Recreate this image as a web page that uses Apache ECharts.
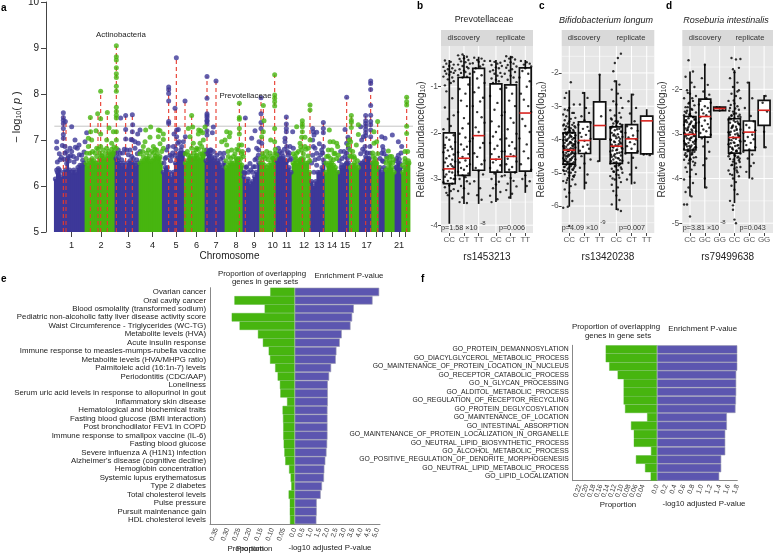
<!DOCTYPE html>
<html><head><meta charset="utf-8"><style>html,body{margin:0;padding:0;background:#fff}#c{width:773px;height:553px}</style>
<script src="https://cdn.jsdelivr.net/npm/echarts@6/dist/echarts.min.js"></script></head>
<body><div id="c"></div>
<script>
// ---------- panel a (x = position along the genome, y = -log10 p)
const chrStarts=[163,255,345,417,487,553,615,675,729,779,828,876,932,975,1015,1048,1078,1115,1137,1155,1185,1205,1230];
const chrTops=[
[6.15,6.3,6.35,6.2,6.3,6.35,6.6,6.35,6.3,6.35,6.3,6.4,6.45,6.45,6.5],
[6.5,6.45,6.5,6.6,6.55,6.5,6.5,6.6,6.65,6.6,6.6,6.65,6.7,6.7,6.75],
[6.6,6.55,6.5,6.45,6.5,6.4,6.5,6.55,6.5,6.5,6.45,6.5],
[6.5,6.55,6.55,6.6,6.6,6.55,6.55,6.6,6.65,6.6,6.6,6.5],
[6.3,6.4,6.4,6.3,6.2,6.3,6.5,6.6,6.7,6.7,6.7],
[6.5,6.55,6.6,6.6,6.6,6.65,6.6,6.6,6.7,6.7],
[6.55,6.7,6.7,6.6,6.55,6.5,6.5,6.45,6.4,6.5],
[6.4,6.45,6.5,6.5,6.5,6.6,6.55,6.5,6.45],
[6.2,6.1,6.15,6.05,6.1,6.2,6.3,6.5],
[6.5,6.5,6.45,6.4,6.45,6.5,6.6,6.6],
[6.55,6.6,6.6,6.6,6.55,6.55,6.4,6.3],
[6.5,6.55,6.5,6.55,6.6,6.6,6.5,6.5,6.3],
[6.1,6.0,6.1,6.3,6.3,6.4,6.5],
[6.3,6.45,6.5,6.5,6.45,6.4,6.3],
[6.3,6.4,6.4,6.45,6.5,6.5],
[6.4,6.45,6.5,6.45,6.4],
[6.5,6.5,6.55,6.6,6.6,6.5],
[6.5,6.55,6.5,6.4],
[6.4,6.3,6.4],
[6.35,6.4,6.5,6.4,6.3],
[6.4,6.5,6.4],
[6.3,6.4,6.5,6.5]];
const blueDots=[[190,7.59],[190,7.49],[190,7.43],[196,7.4],[190,7.36],[190,7.25],[190,7.12],[190,7.04],[195,6.86],[170,6.96],[170,6.82],[215,7.29],[237,6.89],[225,7.0],[210,6.82],[187,6.88],[195,6.71],[205,6.64],[180,6.57],[175,6.38],[170,6.35],[220,6.64],[245,6.67],[255,6.96],[260,7.16],[232,6.82],[200,6.49],[215,6.75],[226,6.84],[362,7.48],[377,7.53],[397,7.55],[398,7.33],[377,7.23],[397,7.18],[377,7.02],[397,7.0],[393,7.01],[405,6.96],[420,7.22],[413,7.13],[415,6.93],[380,6.78],[360,6.71],[390,6.78],[405,6.82],[420,6.75],[365,6.57],[395,6.64],[410,6.57],[506,8.15],[506,8.09],[506,8.01],[506,7.85],[506,7.4],[506,7.36],[525,7.69],[529,8.79],[530,7.22],[535,7.23],[522,7.13],[530,7.07],[500,6.78],[510,6.67],[525,6.67],[550,6.96],[556,7.07],[537,6.96],[545,6.86],[533,6.93],[520,6.86],[505,6.86],[515,6.64],[540,6.71],[495,6.6],[555,7.85],[621,8.38],[621,7.91],[621,7.57],[621,7.53],[621,7.49],[621,7.43],[621,7.4],[621,7.35],[648,8.28],[640,7.28],[637,7.16],[621,7.2],[621,7.11],[630,6.78],[640,6.75],[650,6.67],[660,6.71],[672,6.71],[635,6.64],[620,6.78],[655,6.49],[625,6.57],[736,7.48],[765,7.2],[755,7.04],[745,6.78],[783,7.92],[783,7.57],[783,7.38],[783,7.25],[777,6.96],[785,6.93],[770,6.82],[775,6.67],[765,6.57],[750,6.49],[740,6.42],[760,6.42],[735,6.28],[859,7.5],[859,7.35],[859,7.25],[859,7.18],[878,7.18],[855,7.04],[855,6.96],[860,6.86],[870,6.86],[880,6.82],[835,6.82],[840,6.75],[850,6.64],[865,6.67],[870,6.57],[840,6.57],[970,7.38],[970,7.25],[970,7.16],[938,7.25],[940,7.18],[942,7.11],[938,7.0],[950,7.17],[940,6.86],[958,6.92],[945,6.82],[970,6.86],[965,6.78],[950,6.71],[970,6.57],[945,6.57],[938,6.67],[1040,7.93],[1035,7.23],[1044,7.06],[1040,6.93],[1045,6.82],[1022,6.75],[1040,6.71],[1035,6.64],[1025,6.46],[1040,6.49],[1097,7.53],[1097,7.42],[1097,7.36],[1097,7.3],[1097,7.23],[1097,7.16],[1097,7.09],[1112,8.28],[1112,8.23],[1112,8.1],[1112,7.75],[1112,7.54],[1112,7.4],[1112,7.33],[1112,7.22],[1112,7.07],[1082,7.29],[1090,7.07],[1095,6.86],[1110,6.86],[1097,6.64],[1110,6.71],[1085,7.0],[1145,7.07],[1155,7.04],[1148,6.86],[1150,6.78],[1145,6.71],[1160,6.64],[1150,6.53],[1177,7.11],[1195,6.96],[1205,6.86],[1195,6.67],[1190,6.6],[1200,6.49],[1190,6.42],
[172,6.52],[178,6.7],[184,6.62],[192,6.58],[200,6.75],[208,6.55],[212,6.66],[222,6.52],[230,6.6],[238,6.68],[248,6.56],[252,6.74],[350,6.7],[356,6.62],[368,6.72],[373,6.8],[385,6.68],[400,6.6],[412,6.7],[355,6.78],[492,6.5],[498,6.62],[512,6.55],[518,6.72],[528,6.8],[535,6.62],[543,6.78],[549,6.72],[618,6.7],[626,6.75],[633,6.78],[645,6.6],[652,6.55],[662,6.58],[668,6.62],[732,6.3],[738,6.4],[745,6.3],[752,6.35],[758,6.3],[765,6.42],[770,6.6],[776,6.78],[832,6.7],[838,6.65],[846,6.72],[853,6.8],[862,6.75],[868,6.72],[874,6.6],[935,6.5],[942,6.3],[950,6.45],[956,6.6],[962,6.68],[968,6.72],[1018,6.55],[1026,6.6],[1032,6.75],[1042,6.6],[1082,6.7],[1088,6.8],[1094,6.75],[1102,6.72],[1108,6.6],[1140,6.6],[1147,6.55],[1152,6.7],[1188,6.55],[1198,6.58],[1203,6.72]];
const greenDots=[[271,7.49],[293,7.57],[302,8.06],[302,7.46],[322,7.6],[302,7.13],[272,7.18],[265,7.04],[288,7.2],[327,7.26],[340,7.18],[290,6.82],[320,7.0],[335,6.93],[302,6.86],[275,7.0],[265,6.86],[270,6.71],[310,6.78],[320,6.82],[340,6.71],[260,6.71],[290,6.64],[330,6.67],[300,6.71],[349,9.05],[349,8.81],[349,8.74],[349,8.57],[349,8.44],[349,8.36],[349,8.17],[349,8.06],[349,7.71],[349,7.62],[349,7.54],[349,7.48],[349,7.18],[349,7.0],[349,6.82],[437,7.22],[452,7.28],[475,7.22],[480,7.2],[490,7.13],[450,7.06],[475,7.07],[490,7.01],[435,6.96],[430,6.86],[460,6.86],[480,6.92],[445,6.78],[470,6.78],[490,6.82],[430,6.64],[460,6.71],[480,6.64],[575,7.53],[565,7.25],[578,7.28],[596,7.22],[602,7.2],[615,7.28],[608,7.16],[595,7.13],[610,7.0],[570,7.07],[580,6.93],[600,6.93],[605,6.86],[590,6.82],[565,6.67],[575,6.82],[590,6.67],[610,6.67],[570,6.57],[718,7.8],[718,7.49],[718,7.45],[718,7.25],[718,7.13],[680,7.18],[690,7.16],[688,7.07],[675,7.0],[665,6.96],[717,6.89],[725,6.89],[680,6.89],[695,6.78],[715,6.78],[725,6.7],[685,6.64],[700,6.64],[715,6.6],[730,6.64],[790,7.75],[792,7.42],[790,7.18],[785,7.07],[824,8.42],[824,7.98],[824,7.91],[824,7.83],[824,7.74],[824,7.25],[812,7.0],[824,6.96],[825,6.71],[800,6.75],[815,6.64],[830,6.67],[790,6.64],[805,6.57],[890,7.29],[907,7.42],[907,7.35],[907,7.29],[907,7.18],[930,7.76],[930,7.65],[905,7.06],[915,7.06],[930,7.0],[900,6.93],[915,6.86],[890,6.71],[905,6.78],[925,6.82],[885,6.64],[900,6.57],[988,7.22],[990,6.96],[1000,6.96],[1010,6.93],[1013,6.86],[985,6.78],[995,6.78],[1005,6.71],[1015,6.67],[980,6.64],[1000,6.57],[1054,7.53],[1054,7.43],[1054,7.38],[1054,7.27],[1048,7.0],[1052,6.96],[1045,6.89],[1069,6.89],[1050,6.78],[1062,6.64],[1055,6.64],[1075,7.33],[1075,7.12],[1133,7.4],[1130,6.96],[1122,6.93],[1122,7.18],[1120,6.64],[1130,6.49],[1165,6.76],[1170,6.64],[1160,6.6],[1175,6.64],[1180,6.57],[1220,7.93],[1220,7.83],[1220,7.76],[1220,7.3],[1220,7.14],[1215,6.75],[1223,6.75],[1220,6.38],[1215,6.53],
[258,6.6],[268,6.55],[278,6.75],[285,6.72],[295,6.8],[305,6.66],[315,6.7],[325,6.75],[335,6.8],[342,6.85],[420,6.7],[428,6.75],[440,6.72],[448,6.65],[455,6.75],[465,6.8],[472,6.7],[485,6.75],[556,6.7],[562,6.75],[572,6.65],[582,6.72],[588,6.78],[595,6.8],[600,6.7],[612,6.78],[678,6.55],[684,6.75],[692,6.6],[705,6.7],[710,6.8],[722,6.6],[727,6.75],[782,6.6],[788,6.7],[795,6.6],[802,6.65],[810,6.72],[818,6.6],[826,6.8],[880,6.7],[888,6.6],[895,6.75],[902,6.85],[910,6.7],[918,6.8],[924,6.65],[929,6.55],[978,6.5],[985,6.65],[992,6.6],[1002,6.7],[1010,6.6],[1050,6.65],[1058,6.75],[1064,6.6],[1072,6.55],[1118,6.72],[1125,6.6],[1133,6.7],[1158,6.5],[1168,6.55],[1178,6.5],[1208,6.45],[1215,6.6],[1225,6.55]];
const hitPos=[190,198,271,294,302,322,349,377,397,506,525,529,555,575,621,648,718,736,783,790,824,859,907,930,970,1040,1054,1097,1112,1133,1220];
const hitTop=[7.59,7.4,7.49,7.57,8.06,7.6,9.05,7.53,7.55,8.15,7.69,8.79,7.85,7.53,8.38,8.28,7.8,7.48,7.92,7.75,8.42,7.5,7.42,7.76,7.38,7.93,7.53,7.53,8.28,7.4,7.93];
const chrTickPos=[215,303,385,458,528,590,648,708,762,818,860,912,958,996,1035,1065,1100,1130,1148,1175,1197,1217];
const chrTickName=['1','2','3','4','5','6','7','8','9','10','11','12','13','14','15','','17','','','','21',''];
const genomeLine=[7.3];

// ---------- panels b, c, d: boxes
const bX=[1,2,3,4.18,5.18,6.18], bXNames=['CC','CT','TT','CC','CT','TT'];
const bLow=[-3.97,-3.54,-3.54,-3.5,-3.43,-3.3], bQ1=[-3.1,-2.92,-2.81,-2.85,-2.85,-2.83], bMed=[-2.78,-2.55,-2.06,-2.57,-2.51,-1.57], bQ3=[-2.0,-.8,-.6,-.94,-.96,-.59], bHigh=[-.42,-.31,-.35,-.42,-.33,-.42];
const cX=[1,2,3,4.1,5.1,6.1], cXNames=['CC','CT','TT','CC','CT','TT'];
const cLow=[-6.02,-5.5,-4.67,-6.12,-5.35,-4.47], cQ1=[-4.74,-4.42,-3.99,-4.72,-4.4,-4.43], cMed=[-4.32,-4.03,-3.58,-4.2,-3.98,-3.44], cQ3=[-3.8,-3.47,-2.87,-3.62,-3.55,-3.3], cHigh=[-2.52,-2.57,-2.05,-2.22,-2.62,-3.09];
const dX=[1,2,3,4,5,6], dXNames=['CC','GC','GG','CC','GC','GG'];
const dLow=[-4.4,-4.22,-2.5,-4.55,-4.0,-3.32], dQ1=[-3.36,-3.07,-2.48,-3.43,-3.37,-2.81], dMed=[-3.01,-2.61,-2.43,-3.08,-2.96,-2.47], dQ3=[-2.61,-2.22,-2.4,-2.66,-2.71,-2.25], dHigh=[-1.6,-1.43,-2.38,-1.57,-1.83,-2.13];

// ---------- jittered samples: [offset in tenths of a category, value, ...]
const bJit=[
[-3,-.43,1,-.46,-2,-.5,3,-.52,0,-.55,-4,-.57,2,-.6,-1,-.62,4,-.65,-3,-.66,1,-.68,3,-.7,-2,-.72,0,-.74,-4,-.78,2,-.8,-1,-.84,3,-.88,1,-.92,-3,-.97,-2,-1.1,2,-1.25,-3,-1.45,3,-1.62,-1,-1.7,1,-1.85,-4,-1.92,3,-2.05,-2,-2.1,0,-2.15,4,-2.2,-3,-2.26,1,-2.3,2,-2.35,-1,-2.38,-4,-2.42,3,-2.47,0,-2.5,-2,-2.55,2,-2.58,4,-2.62,-3,-2.64,1,-2.68,-1,-2.72,3,-2.75,-4,-2.8,0,-2.84,2,-2.86,-2,-2.9,4,-2.92,-3,-2.95,1,-2.98,3,-3.0,-1,-3.04,-4,-3.07,2,-3.1,0,-3.14,-3,-3.18,3,-3.22,1,-3.26,-2,-3.3,-1,-3.35,2,-3.42,-3,-2.32,2,-2.72,4,-3.0],
[-4,-.32,-1,-.3,2,-.35,0,-.38,-3,-.4,3,-.42,-2,-.45,1,-.47,4,-.5,-4,-.52,-1,-.55,2,-.57,3,-.6,-3,-.62,0,-.65,1,-.68,-2,-.7,4,-.72,-4,-.75,2,-.78,-1,-.8,3,-.95,-3,-1.05,1,-1.15,-2,-1.3,2,-1.42,-4,-1.55,0,-1.68,3,-1.8,-1,-1.9,-3,-2.02,1,-2.1,4,-2.18,-2,-2.25,2,-2.3,0,-2.36,-4,-2.42,3,-2.46,-1,-2.52,1,-2.6,-3,-2.64,4,-2.68,2,-2.72,-2,-2.76,0,-2.8,-4,-2.84,3,-2.88,-1,-2.92,1,-2.96,-3,-3.0,2,-3.05,4,-3.1,-2,-3.15,0,-3.2,-4,-3.26,3,-3.32,-1,-3.4,-3,-3.5,2,-3.52],
[-3,-.37,2,-.39,-1,-.42,4,-.44,0,-.46,-4,-.49,3,-.52,1,-.56,-2,-.6,-3,-.68,2,-.75,-1,-.82,4,-.92,0,-1.02,-3,-1.12,3,-1.24,1,-1.32,-4,-1.42,-1,-1.55,2,-1.66,4,-1.78,-2,-1.88,0,-1.98,-4,-2.12,3,-2.22,1,-2.32,-3,-2.44,-1,-2.52,4,-2.6,2,-2.68,-2,-2.76,0,-2.82,3,-2.9,-3,-3.05,1,-3.2,-1,-3.35,2,-3.45],
[-4,-.44,-1,-.46,3,-.48,1,-.5,-3,-.53,4,-.55,0,-.58,2,-.6,-2,-.64,-4,-.67,3,-.7,-1,-.72,1,-.76,4,-.78,-3,-.82,0,-.85,2,-.88,-2,-.92,3,-1.05,-4,-1.2,1,-1.35,-1,-1.5,4,-1.62,-3,-1.75,2,-1.86,0,-1.98,-2,-2.08,3,-2.14,-4,-2.22,1,-2.28,-1,-2.35,4,-2.4,-3,-2.46,2,-2.52,0,-2.58,-2,-2.64,3,-2.7,-4,-2.76,1,-2.82,-1,-2.88,4,-2.94,-3,-3.0,2,-3.06,0,-3.12,-2,-3.2,3,-3.28,-4,-3.36,1,-3.44,-3,-3.5],
[-3,-.34,1,-.36,-1,-.39,3,-.41,-4,-.44,0,-.47,2,-.5,-2,-.53,4,-.56,-3,-.59,1,-.62,-1,-.65,3,-.68,-4,-.72,0,-.76,2,-.8,-2,-.85,4,-.9,-3,-1.02,1,-1.15,-1,-1.3,3,-1.42,-4,-1.55,0,-1.68,2,-1.78,-2,-1.92,4,-2.02,-3,-2.12,1,-2.2,-1,-2.28,3,-2.34,-4,-2.4,0,-2.46,2,-2.5,-2,-2.56,4,-2.62,-3,-2.68,1,-2.74,-1,-2.8,3,-2.86,-4,-2.92,0,-2.98,2,-3.04,-2,-3.1,4,-3.16,-3,-3.24,1,-3.32,-1,-3.4],
[-3,-.44,1,-.47,3,-.5,-1,-.52,4,-.56,0,-.6,-2,-.66,2,-.72,-4,-.8,3,-.88,1,-1.0,-3,-1.15,-1,-1.28,2,-1.42,4,-1.55,-2,-1.7,0,-1.85,3,-1.98,-4,-2.12,1,-2.25,-1,-2.4,2,-2.55,-3,-2.68,4,-2.8,0,-2.92,-2,-3.0,3,-3.05,1,-3.15]];
const cJit=[
[-2,-2.6,1,-2.28,-3,-2.75,3,-2.95,0,-3.05,-1,-3.12,2,-3.2,-4,-3.25,-2,-3.3,4,-3.35,1,-3.38,-3,-3.42,0,-3.46,3,-3.5,-1,-3.52,2,-3.56,-4,-3.58,-2,-3.6,4,-3.64,1,-3.66,-3,-3.7,0,-3.72,3,-3.75,-1,-3.78,2,-3.8,-4,-3.82,-2,-3.85,4,-3.87,1,-3.9,-3,-3.92,0,-3.94,3,-3.96,-1,-3.98,2,-4.0,-4,-4.02,-2,-4.04,4,-4.06,1,-4.08,-3,-4.1,0,-4.12,3,-4.14,-1,-4.16,2,-4.18,-4,-4.2,-2,-4.22,4,-4.24,1,-4.26,-3,-4.28,0,-4.3,3,-4.32,-1,-4.34,2,-4.36,-4,-4.38,-2,-4.4,4,-4.42,1,-4.44,-3,-4.46,0,-4.48,3,-4.5,-1,-4.52,2,-4.54,-4,-4.56,-2,-4.58,4,-4.6,1,-4.62,-3,-4.64,0,-4.66,3,-4.68,-1,-4.7,2,-4.72,-4,-4.74,-2,-4.76,4,-4.78,1,-4.8,-3,-4.82,0,-4.84,3,-4.86,-1,-4.88,2,-4.9,-4,-4.92,-2,-4.95,4,-4.98,1,-5.0,-3,-5.04,0,-5.08,3,-5.12,-1,-5.16,2,-5.2,-4,-5.25,-2,-5.3,4,-5.35,1,-5.4,-3,-5.5,0,-5.6,-2,-5.72,2,-5.85,-1,-6.02,-4,-6.05,0,-6.6,3,-3.2,-3,-3.1,
 -3.5,-3.55,-.5,-3.63,2.5,-3.71,-2.5,-3.79,.5,-3.87,3.5,-3.95,-1.5,-4.03,1.5,-4.11,-3.5,-4.19,2.5,-4.27,-.5,-4.35,3.5,-4.43,-2.5,-4.51,.5,-4.59,-1.5,-4.67,1.5,-4.75,-3.5,-4.83,2.5,-4.91,-.5,-4.99,3.5,-5.07,-1.5,-3.84,1.5,-3.92,-2.5,-4.0,.5,-4.07,3.5,-4.15,-3.5,-4.25,-.5,-4.33,2.5,-4.41,-1.5,-4.49,1.5,-4.57,-2.5,-4.65,.5,-4.73,3.5,-4.81,-3.5,-4.61,-.5,-4.45,2.5,-4.2,-1.5,-4.3,1.5,-4.4,.5,-3.75,-2.5,-3.68,3.5,-3.6,-3.5,-4.95,2.5,-5.1,-1.5,-5.22],
[-1,-2.6,2,-2.75,-3,-2.95,1,-3.05,3,-3.2,-2,-3.3,0,-3.42,4,-3.5,-4,-3.56,2,-3.62,-1,-3.68,3,-3.74,-3,-3.8,1,-3.86,-2,-3.92,4,-3.98,0,-4.04,-4,-4.1,2,-4.16,-1,-4.22,3,-4.28,-3,-4.34,1,-4.4,-2,-4.5,4,-4.6,0,-4.72,-3,-4.85,2,-5.05,1,-5.3],
[0,-2.05,1,-3.3,-1,-4.65],
[-1,-2.25,2,-2.35,-3,-2.5,1,-2.62,3,-2.75,-2,-2.85,0,-2.95,4,-3.05,-4,-3.12,2,-3.2,-1,-3.28,3,-3.34,-3,-3.4,1,-3.46,-2,-3.52,4,-3.56,0,-3.6,-4,-3.64,2,-3.68,-1,-3.72,3,-3.76,-3,-3.8,1,-3.84,-2,-3.88,4,-3.92,0,-3.96,-4,-4.0,2,-4.04,-1,-4.08,3,-4.12,-3,-4.16,1,-4.2,-2,-4.24,4,-4.28,0,-4.32,-4,-4.36,2,-4.4,-1,-4.44,3,-4.48,-3,-4.52,1,-4.56,-2,-4.6,4,-4.64,0,-4.68,-4,-4.72,2,-4.76,-1,-4.8,3,-4.84,-3,-4.88,1,-4.92,-2,-4.96,4,-5.0,0,-5.05,-4,-5.1,2,-5.15,-1,-5.2,3,-5.28,-3,-5.36,1,-5.44,-2,-5.55,0,-5.68,2,-5.82,-3,-5.95,1,-6.1,3,-6.15,3,-1.42,1,-1.55,-1,-1.7,-2,-1.95,
 -3.5,-3.37,-.5,-3.45,2.5,-3.53,-2.5,-3.61,.5,-3.69,3.5,-3.77,-1.5,-3.85,1.5,-3.93,-3.5,-4.01,2.5,-4.09,-.5,-4.17,3.5,-4.25,-2.5,-4.33,.5,-4.41,-1.5,-4.49,1.5,-4.57,-3.5,-4.65,2.5,-4.73,-.5,-4.81,3.5,-4.89,-1.5,-4.97,1.5,-5.07,-2.5,-5.17,.5,-3.5,3.5,-3.58,-3.5,-3.66,-.5,-3.9,2.5,-3.98,-1.5,-4.06,1.5,-4.14,-2.5,-4.22,.5,-4.3,3.5,-4.38,-3.5,-4.46,-.5,-4.54,2.5,-4.62,-1.5,-4.7,1.5,-4.78],
[1,-2.65,-2,-2.85,3,-3.05,-1,-3.22,2,-3.45,-3,-3.6,0,-3.66,4,-3.74,-4,-3.8,1,-3.88,-2,-3.94,3,-4.0,-1,-4.08,2,-4.14,-3,-4.2,0,-4.28,4,-4.35,-4,-4.42,1,-4.55,-2,-4.7,3,-4.85,-1,-5.05,2,-5.3,-3,-5.2],
[-2,-4.45,2,-4.47]];
const dJit=[
[-1,-1.35,2,-1.6,-3,-1.72,1,-1.85,3,-1.95,-2,-2.02,0,-2.1,4,-2.15,-4,-2.2,2,-2.26,-1,-2.32,3,-2.36,-3,-2.4,1,-2.44,-2,-2.48,4,-2.52,0,-2.55,-4,-2.58,2,-2.62,-1,-2.65,3,-2.68,-3,-2.7,1,-2.72,-2,-2.74,4,-2.76,0,-2.78,-4,-2.8,2,-2.82,-1,-2.84,3,-2.86,-3,-2.88,1,-2.9,-2,-2.92,4,-2.94,0,-2.96,-4,-2.98,2,-3.0,-1,-3.02,3,-3.04,-3,-3.06,1,-3.08,-2,-3.1,4,-3.12,0,-3.14,-4,-3.16,2,-3.18,-1,-3.2,3,-3.22,-3,-3.24,1,-3.26,-2,-3.28,4,-3.3,0,-3.32,-4,-3.34,2,-3.36,-1,-3.38,3,-3.4,-3,-3.43,1,-3.46,-2,-3.49,4,-3.52,0,-3.55,-4,-3.58,2,-3.62,-1,-3.66,3,-3.7,-3,-3.75,1,-3.8,-2,-3.85,4,-3.9,0,-3.96,-4,-4.02,2,-4.1,-1,-4.2,-3,-4.3,1,-4.4,-4,-4.58,-2,-4.58,0,-4.85,
 -3.5,-2.5,-.5,-2.57,2.5,-2.63,-2.5,-2.69,.5,-2.75,3.5,-2.81,-1.5,-2.87,1.5,-2.93,-3.5,-2.99,2.5,-3.05,-.5,-3.11,3.5,-3.17,-2.5,-3.23,.5,-3.29,-1.5,-3.35,1.5,-3.41,-3.5,-3.47,2.5,-3.53,-.5,-3.59,3.5,-3.65,-1.5,-2.4,1.5,-2.46,-2.5,-2.53,.5,-2.6,3.5,-2.67,-3.5,-2.73,-.5,-2.79,2.5,-2.85,-1.5,-2.91,1.5,-2.97,-2.5,-3.03,.5,-3.09,3.5,-3.15,-3.5,-3.21,-.5,-3.27,2.5,-3.33,-1.5,-3.39,1.5,-3.45,-2.5,-3.51,.5,-3.57,3.5,-3.3,-.5,-2.3,1.5,-2.2,-1.5,-2.08],
[0,-1.45,-2,-1.75,2,-1.9,-1,-2.05,3,-2.12,1,-2.2,-3,-2.26,4,-2.3,-4,-2.34,0,-2.38,2,-2.42,-2,-2.46,3,-2.5,-1,-2.54,1,-2.58,-3,-2.62,4,-2.66,0,-2.7,-4,-2.74,2,-2.78,-2,-2.82,3,-2.86,-1,-2.9,1,-2.94,-3,-2.98,4,-3.02,0,-3.06,-2,-3.1,2,-3.18,-1,-3.28,3,-3.4,1,-3.55,-1,-3.7,0,-4.0,1,-4.2],
[-2,-2.4,0,-2.43,2,-2.46],
[-2,-1.3,1,-1.33,4,-1.32,3,-1.52,-1,-1.55,0,-1.62,-3,-1.75,2,-1.85,-1,-1.95,3,-2.02,-2,-2.1,1,-2.15,4,-2.2,-4,-2.26,0,-2.32,2,-2.38,-3,-2.42,3,-2.46,-1,-2.5,1,-2.54,-2,-2.58,4,-2.62,0,-2.65,-4,-2.68,2,-2.72,-3,-2.75,3,-2.78,-1,-2.81,1,-2.84,-2,-2.87,4,-2.9,0,-2.93,-4,-2.96,2,-2.99,-3,-3.02,3,-3.05,-1,-3.08,1,-3.11,-2,-3.14,4,-3.17,0,-3.2,-4,-3.23,2,-3.26,-3,-3.29,3,-3.32,-1,-3.35,1,-3.38,-2,-3.41,4,-3.44,0,-3.47,-4,-3.5,2,-3.53,-3,-3.56,3,-3.59,-1,-3.62,1,-3.66,-2,-3.7,4,-3.74,0,-3.78,-4,-3.82,2,-3.86,-3,-3.9,3,-3.95,-1,-4.0,1,-4.08,-2,-4.16,0,-4.25,2,-4.35,-3,-4.5,-1,-4.6,-1,-4.7,0,-4.92,1,-5.0,2,-2.05,-2,-2.6,
 -3.5,-2.48,-.5,-2.55,2.5,-2.61,-2.5,-2.67,.5,-2.73,3.5,-2.79,-1.5,-2.85,1.5,-2.91,-3.5,-2.97,2.5,-3.03,-.5,-3.09,3.5,-3.15,-2.5,-3.21,.5,-3.27,-1.5,-3.33,1.5,-3.39,-3.5,-3.45,2.5,-3.51,-.5,-3.57,3.5,-3.63,-1.5,-3.69,1.5,-3.75,-2.5,-2.35,.5,-2.43,3.5,-2.57,-3.5,-2.63,-.5,-2.7,2.5,-2.76,-1.5,-2.83,1.5,-2.89,-2.5,-2.95,.5,-3.01,3.5,-3.07,-3.5,-3.13,-.5,-3.19,2.5,-3.25,-1.5,-3.31,1.5,-3.37,-2.5,-3.43,.5,-3.49,3.5,-3.55,-.5,-2.25,1.5,-3.82,-1.5,-3.92],
[-1,-1.85,2,-2.2,-3,-2.42,1,-2.6,3,-2.72,-2,-2.8,0,-2.86,4,-2.92,-4,-2.98,2,-3.02,-1,-3.07,3,-3.12,-3,-3.16,1,-3.2,-2,-3.25,4,-3.3,0,-3.35,-4,-3.4,2,-3.46,-1,-3.55,3,-3.65,1,-3.72,-2,-3.85,2,-4.0],
[1,-2.15,-1,-2.3,2,-2.5,0,-2.95,1,-3.3]];

// ---------- panels e, f: bars
const eNames=['Ovarian cancer','Oral cavity cancer','Blood osmolality (transformed sodium)','Pediatric non-alcoholic fatty liver disease activity score','Waist Circumference - Triglycerides (WC-TG)','Metabolite levels (HVA)','Acute insulin response','Immune response to measles-mumps-rubella vaccine','Metabolite levels (HVA/MHPG ratio)','Palmitoleic acid (16:1n-7) levels','Periodontitis (CDC/AAP)','Loneliness','Serum uric acid levels in response to allopurinol in gout','Inflammatory skin disease','Hematological and biochemical traits','Fasting blood glucose (BMI interaction)','Post bronchodilator FEV1 in COPD','Immune response to smallpox vaccine (IL-6)','Fasting blood glucose','Severe influenza A (H1N1) infection',"Alzheimer's disease (cognitive decline)",'Hemoglobin concentration','Systemic lupus erythematosus','Type 2 diabetes','Total cholesterol levels','Pulse pressure','Pursuit maintenance gain','HDL cholesterol levels'];
const eProp=[.109,.269,.134,.281,.246,.164,.142,.116,.11,.087,.076,.066,.064,.034,.054,.052,.051,.051,.049,.046,.042,.025,.018,.015,.027,.022,.022,.021];
const eP=[5.1,4.7,3.57,3.47,3.37,2.84,2.72,2.52,2.48,2.2,2.08,2,2,2,1.98,1.98,1.98,1.98,1.96,1.92,1.85,1.79,1.77,1.65,1.57,1.33,1.33,1.31];
const ePropTicks=[0,.05,.1,.15,.2,.25,.3,.35], ePTicks=[0,.5,1,1.5,2,2.5,3,3.5,4,4.5,5];
const fNames=['GO_PROTEIN_DEMANNOSYLATION','GO_DIACYLGLYCEROL_METABOLIC_PROCESS','GO_MAINTENANCE_OF_PROTEIN_LOCATION_IN_NUCLEUS','GO_RECEPTOR_CATABOLIC_PROCESS','GO_N_GLYCAN_PROCESSING','GO_ALDITOL_METABOLIC_PROCESS','GO_REGULATION_OF_RECEPTOR_RECYCLING','GO_PROTEIN_DEGLYCOSYLATION','GO_MAINTENANCE_OF_LOCATION','GO_INTESTINAL_ABSORPTION','GO_MAINTENANCE_OF_PROTEIN_LOCALIZATION_IN_ORGANELLE','GO_NEUTRAL_LIPID_BIOSYNTHETIC_PROCESS','GO_ALCOHOL_METABOLIC_PROCESS','GO_POSITIVE_REGULATION_OF_DENDRITE_MORPHOGENESIS','GO_NEUTRAL_LIPID_METABOLIC_PROCESS','GO_LIPID_LOCALIZATION'];
const fProp=[.146,.146,.136,.112,.095,.095,.095,.091,.028,.074,.066,.066,.017,.06,.034,.018];
const fP=[1.8,1.8,1.8,1.776,1.776,1.776,1.77,1.76,1.567,1.567,1.53,1.53,1.53,1.44,1.44,1.395];
const fPropTicks=[0,.02,.04,.06,.08,.1,.12,.14,.16,.18,.2,.22,.24], fPTicks=[0,.2,.4,.6,.8,1,1.2,1.4,1.6,1.8];

const FONT='"Liberation Sans",Arial,sans-serif';
const BLUE='#3d3899', GREEN='#47b50f', BARBLUE='#5c56b0';
const chart=echarts.init(document.getElementById('c'),null,{renderer:'canvas'});

const grids=[
 {left:46,top:2,width:367,height:230},
 {left:441,top:46,width:92,height:187,show:true,backgroundColor:'#e6e6e6',borderWidth:0},
 {left:561.7,top:46,width:92.6,height:187,show:true,backgroundColor:'#e6e6e6',borderWidth:0},
 {left:682.3,top:46,width:90.7,height:187,show:true,backgroundColor:'#e6e6e6',borderWidth:0},
 {left:210,top:287.7,width:84.7,height:236.5},
 {left:294.7,top:287.7,width:85.3,height:236.5},
 {left:572.7,top:345.3,width:84.3,height:135.4},
 {left:657,top:345.3,width:80.3,height:135.4}].map(g=>Object.assign(g,{outerBoundsMode:'none',containLabel:false}));

const tickName={};chrTickPos.forEach((p,i)=>tickName[p]=chrTickName[i]);
const xAxes=[{gridIndex:0,type:'value',min:138,max:1239,splitLine:{show:false},axisLine:{show:false},
  axisTick:{show:true,length:5,lineStyle:{color:'#444'},customValues:chrTickPos},
  axisLabel:{customValues:chrTickPos,formatter:v=>tickName[v]||'',fontSize:9.2,color:'#222',margin:9,fontFamily:FONT},
  name:'Chromosome',nameLocation:'middle',nameGap:19,nameTextStyle:{fontSize:10,color:'#222',fontFamily:FONT}}];
const yAxes=[{gridIndex:0,type:'value',min:5,max:10,interval:1,splitLine:{show:false},
  axisLine:{show:true,lineStyle:{color:'#444'}},axisTick:{length:5,lineStyle:{color:'#444'}},
  axisLabel:{fontSize:10,color:'#222',margin:7,fontFamily:FONT},
  name:'\u2212 log{s|10}( {i|p} )',nameLocation:'middle',nameRotate:90,nameGap:23,
  nameTextStyle:{fontSize:11,color:'#222',fontFamily:FONT,rich:{s:{fontSize:7,padding:[5,0,0,0],fontFamily:FONT,color:'#222'},i:{fontSize:11,fontStyle:'italic',fontFamily:FONT,color:'#222'}}}}];

function boxAxes(gi,xs,names,min,max,ymin,ymax,yticks,rs,nameGapY){
 const nm={};xs.forEach((x,i)=>nm[x]=names[i]);
 xAxes.push({gridIndex:gi,type:'value',min,max,splitLine:{show:false},axisLine:{show:false},
  axisTick:{length:3,lineStyle:{color:'#444'},customValues:xs},
  axisLabel:{customValues:xs,formatter:v=>nm[v]||'',fontSize:8,color:'#555',margin:3,fontFamily:FONT},
  name:rs,nameLocation:'middle',nameGap:19,nameTextStyle:{fontSize:10,color:'#222',fontFamily:FONT}});
 yAxes.push({gridIndex:gi,type:'value',min:ymin,max:ymax,splitLine:{show:false},axisLine:{show:false},
  axisTick:{length:3,lineStyle:{color:'#444'},customValues:yticks},
  axisLabel:{customValues:yticks,formatter:v=>String(v),fontSize:8.5,color:'#555',margin:3,fontFamily:FONT},
  name:'Relative abundance(log{s|10})',nameLocation:'middle',nameRotate:90,nameGap:nameGapY,
  nameTextStyle:{fontSize:10,color:'#333',fontFamily:FONT,rich:{s:{fontSize:7,padding:[4,0,0,0],fontFamily:FONT,color:'#333'}}}});
}
boxAxes(1,bX,bXNames,.434,6.705,-4.17,-.117,[-4,-3,-2,-1],'rs1453213',11);
boxAxes(2,cX,cXNames,.5,6.6,-6.81,-1.19,[-6,-5,-4,-3,-2],'rs13420238',12);
boxAxes(3,dX,dXNames,.48,6.6,-5.22,-1.03,[-5,-4,-3,-2],'rs79499638',12);

function barAxes(gi,names,propTicks,propMax,pTicks,pMax,labelFont){
 const common={type:'value',splitLine:{show:false},axisLine:{show:true,onZero:false,lineStyle:{color:'#888'}}};
 xAxes.push(Object.assign({},common,{gridIndex:gi,inverse:true,min:0,max:propMax,
  axisTick:{length:3,lineStyle:{color:'#888'},customValues:propTicks.concat([propMax])},
  axisLabel:{customValues:propTicks.slice(1),rotate:70,fontSize:6.8,color:'#333',margin:4,fontFamily:FONT,formatter:v=>v.toFixed(2)}}));
 yAxes.push({gridIndex:gi,type:'category',inverse:true,data:names,position:'left',
  axisLine:{show:true,onZero:false,lineStyle:{color:'#888'}},axisTick:{alignWithLabel:true,length:3,lineStyle:{color:'#888'}},
  axisLabel:{interval:0,fontSize:labelFont,color:'#222',margin:4,fontFamily:FONT},splitLine:{show:false}});
 xAxes.push(Object.assign({},common,{gridIndex:gi+1,min:0,max:pMax,
  axisTick:{length:3,lineStyle:{color:'#888'},customValues:pTicks.concat([pMax])},
  axisLabel:{customValues:pTicks,rotate:70,fontSize:6.8,color:'#333',margin:4,fontFamily:FONT,formatter:v=>v.toFixed(1)}}));
 yAxes.push({gridIndex:gi+1,type:'category',inverse:true,data:names,show:false});
}
barAxes(4,eNames,ePropTicks,.378,ePTicks,5.15,7.85);
barAxes(6,fNames,fPropTicks,.24,fPTicks,1.8,6.8);

const series=[];
// chromosome bodies
const bodyData=[],bodyBlue=[],bodyGreen=[];
chrTops.forEach((tops,c)=>{const a=chrStarts[c],b=chrStarts[c+1],w=(b-a)/tops.length;
 tops.forEach((t,i)=>{bodyData.push([a+i*w,a+(i+1)*w,t,c%2]);(c%2?bodyGreen:bodyBlue).push([a+(i+.5)*w,t]);});});
series.push({type:'custom',xAxisIndex:0,yAxisIndex:0,silent:true,z:2,data:bodyData,clip:true,animation:false,
 renderItem:(p,api)=>{const s=api.coord([api.value(0),5]),e=api.coord([api.value(1),api.value(2)]);
  return {type:'rect',shape:{x:s[0]-.4,y:e[1],width:e[0]-s[0]+.8,height:s[1]-e[1]},style:{fill:api.value(3)?GREEN:BLUE}};}});
// threshold
series.push({type:'line',xAxisIndex:0,yAxisIndex:0,z:2,symbol:'none',silent:true,animation:false,
 data:[[163,genomeLine[0]],[1239,genomeLine[0]]],lineStyle:{color:'#c4c4c4',width:1}});
// scattered dots
[[bodyBlue,BLUE],[bodyGreen,GREEN]].forEach(([d,col])=>series.push({type:'scatter',xAxisIndex:0,yAxisIndex:0,z:3,silent:true,animation:false,symbolSize:5,data:d,itemStyle:{color:col}}));
// hits
series.push({type:'custom',xAxisIndex:0,yAxisIndex:0,z:4,silent:true,animation:false,data:hitPos.map((x,i)=>[x,hitTop[i]]),
 renderItem:(p,api)=>{const s=api.coord([api.value(0),5]),e=api.coord([api.value(0),api.value(1)]);
  return {type:'line',shape:{x1:s[0],y1:s[1],x2:e[0],y2:e[1]},style:{stroke:'#e8392c',lineWidth:1.1,lineDash:[4,3]}};}});
[[blueDots,BLUE],[greenDots,GREEN]].forEach(([d,col])=>series.push({type:'scatter',xAxisIndex:0,yAxisIndex:0,z:5,silent:true,animation:false,symbolSize:5,data:d,itemStyle:{color:col}}));

function boxSeries(gi,xs,lo,q1,med,q3,hi,jit,majors,minors){
 // background grid lines
 const gl=[];majors.forEach(v=>gl.push([0,v,1]));minors.forEach(v=>gl.push([0,v,.5]));xs.forEach(v=>gl.push([1,v,1]));
 series.push({type:'custom',xAxisIndex:gi,yAxisIndex:gi,z:1,silent:true,animation:false,data:gl,
  renderItem:(p,api)=>{const cs=p.coordSys,c=api.coord([api.value(0)?api.value(1):0,api.value(0)?0:api.value(1)]);
   return api.value(0)?{type:'line',shape:{x1:c[0],y1:cs.y,x2:c[0],y2:cs.y+cs.height},style:{stroke:'#fff',lineWidth:api.value(2)}}
    :{type:'line',shape:{x1:cs.x,y1:c[1],x2:cs.x+cs.width,y2:c[1]},style:{stroke:'#fff',lineWidth:api.value(2)}};}});
 const data=xs.map((x,i)=>[x,lo[i],q1[i],med[i],q3[i],hi[i]]);
 series.push({type:'custom',xAxisIndex:gi,yAxisIndex:gi,z:2,silent:true,animation:false,data,
  renderItem:(p,api)=>{const x=api.value(0),w=api.size([.8,0])[0],L=api.coord([x,api.value(1)]),Q1=api.coord([x,api.value(2)]),Q3=api.coord([x,api.value(4)]),H=api.coord([x,api.value(5)]);
   const st={stroke:'#111',lineWidth:1.7,fill:'none'};
   return {type:'group',children:[
    {type:'line',shape:{x1:L[0],y1:L[1],x2:Q1[0],y2:Q1[1]},style:st},
    {type:'line',shape:{x1:H[0],y1:H[1],x2:Q3[0],y2:Q3[1]},style:st},
    {type:'rect',shape:{x:Q3[0]-w/2,y:Q3[1],width:w,height:Q1[1]-Q3[1]},style:{stroke:'#111',lineWidth:1.7,fill:'#fff'}}]};}});
 const pts=[];jit.forEach((g,i)=>{for(let k=0;k<g.length;k+=2)pts.push([xs[i]+g[k]/10,g[k+1]]);});
 series.push({type:'scatter',xAxisIndex:gi,yAxisIndex:gi,z:3,silent:true,animation:false,symbolSize:2.4,data:pts,itemStyle:{color:'#000'}});
 series.push({type:'custom',xAxisIndex:gi,yAxisIndex:gi,z:4,silent:true,animation:false,data,
  renderItem:(p,api)=>{const x=api.value(0),w=api.size([.8,0])[0],M=api.coord([x,api.value(3)]);
   return {type:'line',shape:{x1:M[0]-w/2,y1:M[1],x2:M[0]+w/2,y2:M[1]},style:{stroke:'#d8231f',lineWidth:1.6}};}});
}
boxSeries(1,bX,bLow,bQ1,bMed,bQ3,bHigh,bJit,[-4,-3,-2,-1],[-3.5,-2.5,-1.5,-.5]);
boxSeries(2,cX,cLow,cQ1,cMed,cQ3,cHigh,cJit,[-6,-5,-4,-3,-2],[-6.5,-5.5,-4.5,-3.5,-2.5,-1.5]);
boxSeries(3,dX,dLow,dQ1,dMed,dQ3,dHigh,dJit,[-5,-4,-3,-2],[-4.5,-3.5,-2.5,-1.5]);

function barSeries(gi,prop,p){
 series.push({type:'bar',xAxisIndex:gi,yAxisIndex:gi,barCategoryGap:0,animation:false,silent:true,data:prop,itemStyle:{color:GREEN,borderColor:'#4fb02a',borderWidth:.4}});
 series.push({type:'bar',xAxisIndex:gi+1,yAxisIndex:gi+1,barCategoryGap:0,animation:false,silent:true,data:p,itemStyle:{color:BARBLUE,borderColor:'#9a9ab0',borderWidth:.6}});
}
barSeries(4,eProp,eP);barSeries(6,fProp,fP);

function T(text,x,y,size,o){return {type:'text',x,y,z:20,silent:true,style:Object.assign({text,fontSize:size,fontFamily:FONT,fill:'#222',textAlign:'center',textVerticalAlign:'middle'},o||{})};}
function R(x,y,w,h){return {type:'rect',shape:{x,y,width:w,height:h},z:1,silent:true,style:{fill:'#d9d9d9'}};}
const graphic=[
 T('a',1,8,10,{fontWeight:'bold',fill:'#000',textAlign:'left'}),T('b',417,6,10,{fontWeight:'bold',fill:'#000',textAlign:'left'}),T('c',539,6,10,{fontWeight:'bold',fill:'#000',textAlign:'left'}),T('d',666,6,10,{fontWeight:'bold',fill:'#000',textAlign:'left'}),T('e',1,279,10,{fontWeight:'bold',fill:'#000',textAlign:'left'}),T('f',421,279,10,{fontWeight:'bold',fill:'#000',textAlign:'left'}),
 T('Actinobacteria',121,35,7.9),T('Prevotellaceae',245.5,96,7.9),
 T('Prevotellaceae',484,20,8.9),T('Bifidobacterium longum',606,20,9,{fontStyle:'italic'}),T('Roseburia intestinalis',726,20,9,{fontStyle:'italic'}),
 R(441,30,92,16),R(561.7,30,92.6,16),R(682.3,30,90.7,16),
 T('discovery',463.7,38,7.7,{fill:'#333'}),T('replicate',510.7,38,7.7,{fill:'#333'}),T('discovery',584,38,7.7,{fill:'#333'}),T('replicate',631,38,7.7,{fill:'#333'}),T('discovery',705,38,7.7,{fill:'#333'}),T('replicate',750,38,7.7,{fill:'#333'}),
 T('p=1.58 \u00d710',441,228,7.2,{textAlign:'left',fill:'#333'}),T('-8',483,223,6,{fill:'#333'}),T('p=0.006',512,228,7.2,{fill:'#333'}),
 T('p=4.09 \u00d710',561.7,228,7.2,{textAlign:'left',fill:'#333'}),T('-9',603,222,6,{fill:'#333'}),T('p=0.007',632,228,7.2,{fill:'#333'}),
 T('p=3.81 \u00d710',682.7,228,7.2,{textAlign:'left',fill:'#333'}),T('-8',723,222,6,{fill:'#333'}),T('p=0.043',752.7,228,7.2,{fill:'#333'}),
 T('Proportion of overlapping',262,273.5,7.9),T('genes in gene sets',265,282,7.9),T('Enrichment P-value',349,275.5,7.9),T('Proportion',245.6,548.5,7.9),T('Proportion',254.3,548.5,7.9),T('-log10 adjusted P-value',330,548,7.9),
 T('Proportion of overlapping',616,326.7,7.9),T('genes in gene sets',618,335.5,7.9),T('Enrichment P-value',702.7,329,7.9),T('Proportion',618,505,7.9),T('-log10 adjusted P-value',704,504,7.9)
];
chart.setOption({animation:false,textStyle:{fontFamily:FONT},grid:grids,xAxis:xAxes,yAxis:yAxes,series,graphic});
</script></body></html>
